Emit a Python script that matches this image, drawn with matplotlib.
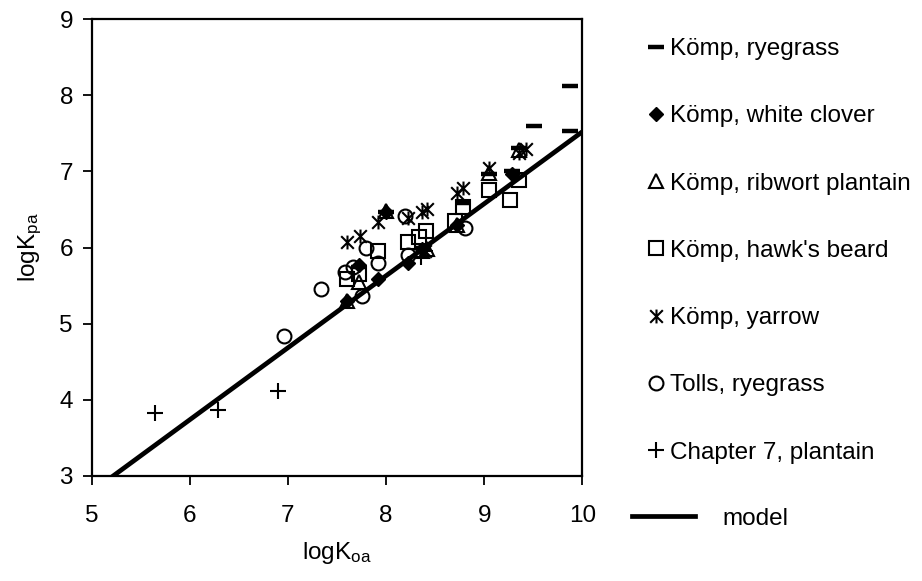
import matplotlib
matplotlib.use("Agg")
import matplotlib.pyplot as plt
import numpy as np
from matplotlib.path import Path
from matplotlib.lines import Line2D

plt.rcParams['font.family'] = ['Liberation Sans', 'DejaVu Sans']
plt.rcParams['mathtext.fontset'] = 'custom'
plt.rcParams['mathtext.rm'] = 'Liberation Sans'
plt.rcParams['mathtext.it'] = 'Liberation Sans'
plt.rcParams['font.size'] = 17.5

# data
rye_x = [7.72, 8.00, 8.37, 8.78, 9.05, 9.28, 9.36, 9.51, 9.88, 9.88]
rye_y = [5.75, 6.47, 6.00, 6.58, 6.97, 7.00, 7.31, 7.60, 8.12, 7.53]

clover_x = [7.60, 7.72, 7.92, 8.00, 8.22, 8.37, 8.72, 9.28]
clover_y = [5.30, 5.77, 5.58, 6.47, 5.80, 5.98, 6.30, 6.96]

ribwort_x = [7.60, 7.72, 8.00, 8.37, 8.42, 8.72, 9.05, 9.36]
ribwort_y = [5.30, 5.55, 6.48, 5.95, 5.98, 6.30, 6.98, 7.28]

hawk_x = [7.60, 7.72, 7.92, 8.22, 8.34, 8.41, 8.70, 8.78, 9.05, 9.26, 9.36]
hawk_y = [5.58, 5.65, 5.95, 6.07, 6.14, 6.22, 6.35, 6.53, 6.76, 6.63, 6.89]

yarrow_x = [7.60, 7.73, 7.92, 8.22, 8.37, 8.42, 8.40, 8.72, 8.78, 9.05, 9.36, 9.43]
yarrow_y = [6.07, 6.15, 6.34, 6.39, 6.47, 6.50, 5.95, 6.72, 6.78, 7.05, 7.24, 7.29]

tolls_x = [6.96, 7.34, 7.58, 7.66, 7.76, 7.80, 7.92, 8.19, 8.22, 8.80]
tolls_y = [4.84, 5.46, 5.68, 5.75, 5.36, 6.00, 5.80, 6.42, 5.90, 6.26]

ch7_x = [5.64, 6.29, 6.90, 8.36, 8.40]
ch7_y = [3.82, 3.87, 4.12, 5.88, 5.95]

# model line logKpa = a*logKoa + b
model_a = 0.9456
model_b = -1.936
model_x = np.array([5.0, 10.0])

# Excel-like star marker: X plus vertical bar
star = Path([(-1, -1), (1, 1), (-1, 1), (1, -1), (0, -1.1), (0, 1.1)],
            [Path.MOVETO, Path.LINETO, Path.MOVETO, Path.LINETO,
             Path.MOVETO, Path.LINETO])

fig = plt.figure(figsize=(9.22, 5.81), dpi=100)
ax = fig.add_axes([0.0995, 0.181, 0.532, 0.786])

ax.plot(model_x, model_a * model_x + model_b, color='black', lw=3.4,
        solid_capstyle='butt', zorder=1)

common = dict(ls='none', color='black', zorder=3)
ax.plot(rye_x, rye_y, marker='_', ms=11.5, mew=3.2, **common)
ax.plot(clover_x, clover_y, marker='D', ms=7.5, mfc='black', mec='black', **common)
ax.plot(ribwort_x, ribwort_y, marker='^', ms=10, mfc='none', mec='black', mew=1.5, **common)
ax.plot(hawk_x, hawk_y, marker='s', ms=9.5, mfc='none', mec='black', mew=1.5, **common)
ax.plot(yarrow_x, yarrow_y, marker=star, ms=10, mec='black', mew=1.5, **common)
ax.plot(tolls_x, tolls_y, marker='o', ms=10, mfc='none', mec='black', mew=1.5, **common)
ax.plot(ch7_x, ch7_y, marker='+', ms=11, mew=1.5, **common)

ax.set_xlim(5, 10)
ax.set_ylim(3, 9)
ax.set_xticks([5, 6, 7, 8, 9, 10])
ax.set_yticks([3, 4, 5, 6, 7, 8, 9])
ax.tick_params(axis='both', direction='out', length=6.5, width=1.3,
               top=False, right=False)
ax.tick_params(axis='x', pad=14.5)
ax.tick_params(axis='y', pad=7)
for s in ax.spines.values():
    s.set_linewidth(1.6)

ax.set_xlabel(r'logK$_{\mathrm{oa}}$', labelpad=9)
ax.set_ylabel(r'logK$_{\mathrm{pa}}$', labelpad=11)

# legend (markers)
labels = ['Kömp, ryegrass', 'Kömp, white clover', 'Kömp, ribwort plantain',
          "Kömp, hawk's beard", 'Kömp, yarrow', 'Tolls, ryegrass',
          'Chapter 7, plantain']
handles = [
    Line2D([], [], ls='none', marker='_', ms=11.5, mew=3.2, color='black'),
    Line2D([], [], ls='none', marker='D', ms=7.5, color='black'),
    Line2D([], [], ls='none', marker='^', ms=10, mfc='none', mec='black', mew=1.5),
    Line2D([], [], ls='none', marker='s', ms=9.5, mfc='none', mec='black', mew=1.5),
    Line2D([], [], ls='none', marker=star, ms=10, color='black', mew=1.5),
    Line2D([], [], ls='none', marker='o', ms=10, mfc='none', mec='black', mew=1.5),
    Line2D([], [], ls='none', marker='+', ms=11, mew=1.5, color='black'),
]
fig.legend(handles, labels, loc='upper left', bbox_to_anchor=(0.692, 0.951),
           frameon=False, handlelength=0.7, handletextpad=0.22,
           labelspacing=1.86, borderaxespad=0, fontsize=17.5)

fig.legend([Line2D([], [], color='black', lw=3.4)], ['model'], loc='upper left',
           bbox_to_anchor=(0.675, 0.143), frameon=False, handlelength=2.6,
           handletextpad=1.1, borderaxespad=0, fontsize=17.5)

fig.savefig('out.png', dpi=100)
